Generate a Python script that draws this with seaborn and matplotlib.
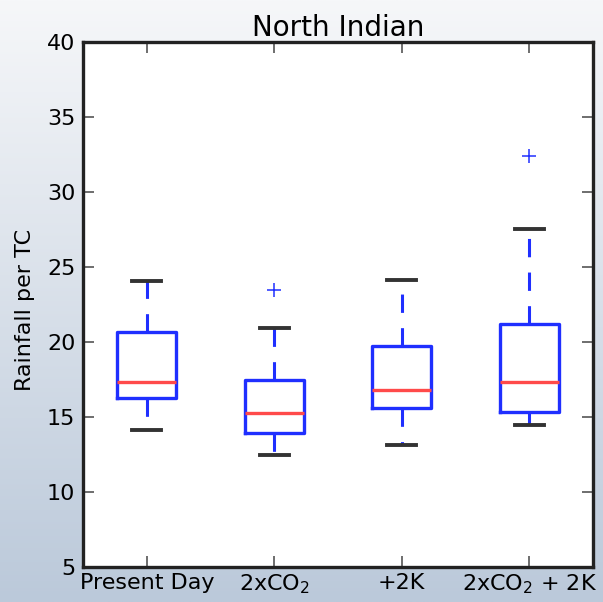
import numpy as np
import pandas as pd
import matplotlib
matplotlib.use("Agg")
import matplotlib.pyplot as plt
import seaborn as sns

categories = ["Present Day", "2xCO$_2$", "+2K", "2xCO$_2$ + 2K"]
present_day = [14.13, 15.5, 16.27, 16.8, 17.33, 19.0, 20.67, 22.5, 24.07]
two_co2 = [12.47, 13.5, 13.93, 14.5, 15.27, 16.5, 17.47, 20.93, 23.47]
plus_2k = [13.13, 14.5, 15.6, 16.2, 16.8, 18.5, 19.73, 22.0, 24.13]
two_co2_2k = [14.47, 14.9, 15.33, 16.3, 17.33, 19.5, 21.2, 27.53, 32.4]
title = "North Indian"
ylabel = "Rainfall per TC"
yticks = [5, 10, 15, 20, 25, 30, 35, 40]

series = [present_day, two_co2, plus_2k, two_co2_2k]
df = pd.DataFrame({
    "scenario": np.repeat(categories, [len(s) for s in series]),
    "rain": np.concatenate(series),
})

fig = plt.figure(figsize=(6.03, 6.02), dpi=100)
# gradient background
bg = fig.add_axes([0, 0, 1, 1], zorder=-10)
top = np.array([0xf6, 0xf7, 0xf9]) / 255
bot = np.array([0xbb, 0xc9, 0xda]) / 255
t = np.linspace(0, 1, 256)[:, None]
grad = (1 - t) * top + t * bot
bg.imshow(grad[:, None, :].repeat(2, axis=1), aspect="auto", extent=[0, 1, 0, 1])
bg.set_axis_off()

ax = fig.add_axes([83 / 603, 1 - 567 / 602, 510 / 603, 525 / 602])
ax.set_facecolor("white")

sns.boxplot(
    data=df, x="scenario", y="rain", order=categories, ax=ax,
    width=0.46, fill=False, whis=1.5, color="#1f2fff",
    boxprops=dict(color="#1f2fff", linewidth=2.4),
    medianprops=dict(color="#ff4a4a", linewidth=2.4),
    whiskerprops=dict(color="#1f2fff", linewidth=2.2, linestyle=(0, (6, 5))),
    capprops=dict(color="#333333", linewidth=2.8),
    flierprops=dict(marker="+", markeredgecolor="#2030ff", markersize=10, markeredgewidth=1.1),
)

ax.set_xlim(-0.5, 3.5)
ax.set_ylim(5, 40)
ax.set_yticks(yticks)
ax.set_title(title, fontsize=20, pad=4)
ax.set_ylabel(ylabel, fontsize=16)
ax.yaxis.set_label_coords(-0.094, 0.49)
ax.set_xlabel("")
ax.tick_params(axis="both", direction="in", length=8, width=1.2, labelsize=16,
               top=True, right=True, color="#555555")
ax.tick_params(axis="x", pad=4)
ax.tick_params(axis="y", pad=5.5)
for s in ax.spines.values():
    s.set_linewidth(2.4)
    s.set_color("#222222")
    s.set_visible(True)

fig.savefig("out.png", dpi=100)
